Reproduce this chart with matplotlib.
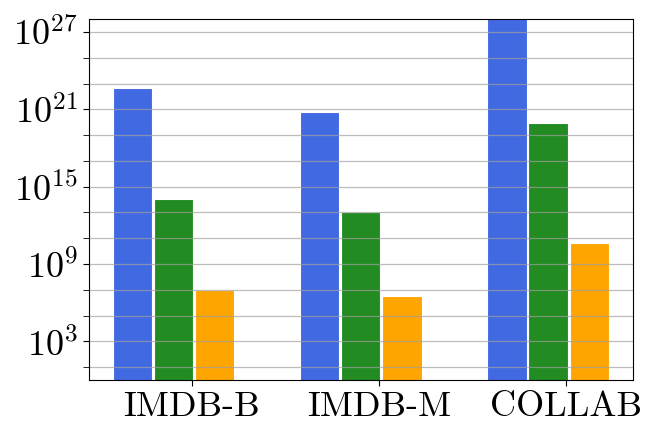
import matplotlib
matplotlib.use("Agg")
import matplotlib.pyplot as plt
import matplotlib.ticker as mticker
import numpy as np

plt.rcParams["font.family"] = "serif"
plt.rcParams["font.serif"] = ["cmr10"]
plt.rcParams["mathtext.fontset"] = "cm"
plt.rcParams["axes.formatter.use_mathtext"] = True

# data (log10 of the values)
datasets = ["IMDB-B", "IMDB-M", "COLLAB"]
series_a = [22.65, 20.8, 29.0]
series_b = [14.05, 13.05, 19.95]
series_c = [7.0, 6.5, 10.65]
colors = ["royalblue", "forestgreen", "orange"]

x = np.arange(len(datasets))
width = 0.21
offsets = [-0.317, -0.098, 0.122]

fig = plt.figure(figsize=(6.64, 4.43), dpi=100)
ax = fig.add_axes([0.134, 0.142, 0.819, 0.815])

for vals, off, col in zip([series_a, series_b, series_c], offsets, colors):
    ax.bar(x + off, 10.0 ** np.array(vals), width, color=col,
           edgecolor="white", linewidth=0.8, zorder=2)

ax.set_yscale("log")
ax.set_ylim(1, 1e28)
ax.set_xlim(-0.55, 2.355)

ax.yaxis.set_major_locator(mticker.FixedLocator([10.0 ** e for e in range(3, 28, 6)]))
ax.yaxis.set_major_formatter(mticker.FuncFormatter(lambda v, p: r"$10^{%d}$" % round(np.log10(v))))
ax.yaxis.set_minor_locator(mticker.FixedLocator([10.0 ** e for e in range(1, 28, 2)]))
ax.yaxis.set_minor_formatter(mticker.NullFormatter())

ax.set_xticks(x)
ax.set_xticklabels(datasets)
ax.tick_params(axis="both", which="major", labelsize=26, length=4.5)
ax.tick_params(axis="y", which="minor", length=4.5)

ax.grid(True, axis="y", which="both", color="#a0a0a0", alpha=0.7, linewidth=0.9, zorder=3)
ax.set_axisbelow(False)
for s in ax.spines.values():
    s.set_zorder(4)

plt.savefig("out.png", dpi=100)
plt.close()
